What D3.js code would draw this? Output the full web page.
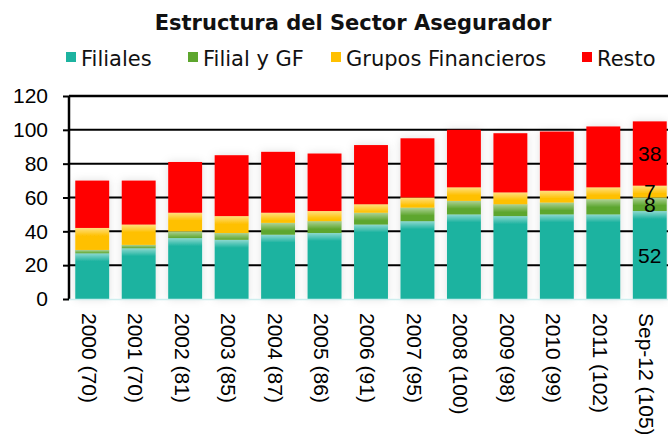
<!DOCTYPE html>
<html>
<head>
<meta charset="utf-8">
<script src="https://cdn.jsdelivr.net/npm/d3@7"></script>
<style>
  body { margin: 0; background: #fff; }
  svg { display: block; }
</style>
</head>
<body>
<div id="chart-area"></div>
<script>
// categories and series
const categories = ['2000 (70)', '2001 (70)', '2002 (81)', '2003 (85)', '2004 (87)', '2005 (86)',
  '2006 (91)', '2007 (95)', '2008 (100)', '2009 (98)', '2010 (99)', '2011 (102)', 'Sep-12 (105)'];
const filiales = [27, 30, 36, 35, 38, 39, 44, 46, 50, 49, 50, 50, 52];
const filialGF = [2, 2, 4, 4, 7, 7, 7, 8, 8, 7, 7, 9, 8];
const grupos   = [13, 12, 11, 10, 6, 6, 5, 6, 8, 7, 7, 7, 7];
const resto    = [28, 26, 30, 36, 36, 34, 35, 35, 34, 35, 35, 36, 38];
const yTicks = [0, 20, 40, 60, 80, 100, 120];
const seriesNames = ['Filiales', 'Filial y GF', 'Grupos Financieros', 'Resto'];
const colors = ['#1db3a0', '#5da62e', '#ffc000', '#ff0000'];

const W = 668, H = 434;

const svg = d3.select('#chart-area').append('svg')
  .attr('width', W)
  .attr('height', H);

const defs = svg.append('defs');
const shadow = defs.append('filter').attr('id', 'shadow')
  .attr('x', '-40%').attr('y', '-10%').attr('width', '180%').attr('height', '120%');
shadow.append('feDropShadow')
  .attr('dx', 0).attr('dy', 0).attr('stdDeviation', 4)
  .attr('flood-color', '#000').attr('flood-opacity', 0.13);

const shine = defs.append('linearGradient').attr('id', 'shine')
  .attr('x1', 0).attr('y1', 0).attr('x2', 0).attr('y2', 1);
shine.append('stop').attr('offset', '0%').attr('stop-color', '#fff').attr('stop-opacity', 0.5);
shine.append('stop').attr('offset', '100%').attr('stop-color', '#fff').attr('stop-opacity', 0);

// table for the stack
const table = categories.map((c, i) => ({
  cat: c,
  'Filiales': filiales[i],
  'Filial y GF': filialGF[i],
  'Grupos Financieros': grupos[i],
  'Resto': resto[i]
}));
const stacked = d3.stack().keys(seriesNames)(table);

// scales
const x = d3.scaleBand()
  .domain(categories)
  .range([69, 673])
  .paddingInner(0.27)
  .paddingOuter(0.135);

const y = d3.scaleLinear()
  .domain([0, 120])
  .range([299, 96]);

// title
svg.append('text')
  .attr('x', 353)
  .attr('y', 30)
  .attr('text-anchor', 'middle')
  .attr('font-family', 'DejaVu Sans')
  .attr('font-weight', 'bold')
  .attr('font-size', '21px')
  .attr('fill', '#111')
  .text('Estructura del Sector Asegurador');

// legend
const legendX = [66, 188, 331, 582];
const legend = svg.append('g').attr('class', 'legend');
seriesNames.forEach((name, i) => {
  const g = legend.append('g').attr('transform', `translate(${legendX[i]},0)`);
  g.append('rect')
    .attr('x', 0).attr('y', 52)
    .attr('width', 10).attr('height', 10)
    .attr('fill', colors[i]);
  g.append('text')
    .attr('x', 15).attr('y', 66)
    .attr('font-family', 'DejaVu Sans')
    .attr('font-size', '21px')
    .attr('fill', '#111')
    .text(name);
});

// gridlines
svg.append('g')
  .attr('class', 'grid')
  .selectAll('line')
  .data(yTicks.filter(d => d > 0))
  .enter().append('line')
    .attr('x1', 69).attr('x2', W)
    .attr('y1', d => y(d)).attr('y2', d => y(d))
    .attr('stroke', '#000')
    .attr('stroke-width', d => d === 120 ? 2.5 : 2);

// bars
const barGroups = svg.append('g').attr('class', 'bars')
  .selectAll('g.bar')
  .data(categories)
  .enter().append('g')
    .attr('class', 'bar')
    .attr('filter', 'url(#shadow)');

barGroups.each(function (cat, j) {
  const g = d3.select(this);
  stacked.forEach((layer, i) => {
    const d = layer[j];
    const top = y(d[1]);
    const h = y(d[0]) - y(d[1]);
    g.append('rect')
      .attr('x', x(cat))
      .attr('y', top)
      .attr('width', x.bandwidth())
      .attr('height', h)
      .attr('fill', colors[i]);
    if (i < 3) {
      g.append('rect')
        .attr('x', x(cat))
        .attr('y', top)
        .attr('width', x.bandwidth())
        .attr('height', Math.min(h, 8))
        .attr('fill', 'url(#shine)');
    }
  });
});

// data labels on the last bar
const lastIdx = categories.length - 1;
svg.append('g').attr('class', 'labels')
  .selectAll('text')
  .data(stacked.map(layer => layer[lastIdx]))
  .enter().append('text')
    .attr('x', x(categories[lastIdx]) + x.bandwidth() / 2)
    .attr('y', d => y((d[0] + d[1]) / 2))
    .attr('dy', '0.36em')
    .attr('text-anchor', 'middle')
    .attr('font-family', 'Liberation Sans, Arial, sans-serif')
    .attr('font-size', '21px')
    .attr('fill', '#000')
    .text(d => d[1] - d[0]);

// y axis
const yAxisCall = d3.axisLeft(y)
  .tickValues(yTicks)
  .tickSize(6)
  .tickPadding(15);
const yAxisGroup = svg.append('g')
  .attr('class', 'y-axis')
  .attr('transform', 'translate(69,0)')
  .call(yAxisCall);
yAxisGroup.select('.domain')
  .attr('d', `M0,${y(120)}V${y(0)}`)
  .attr('stroke', '#000')
  .attr('stroke-width', 2.5);
yAxisGroup.selectAll('.tick line').attr('stroke', '#000').attr('stroke-width', 2);
yAxisGroup.selectAll('.tick text')
  .attr('font-family', 'Liberation Sans, Arial, sans-serif')
  .attr('font-size', '21px')
  .attr('fill', '#000');

// x axis baseline (faint) and rotated labels
svg.append('line')
  .attr('x1', 69).attr('x2', W)
  .attr('y1', y(0) + 0.5).attr('y2', y(0) + 0.5)
  .attr('stroke', '#cdeeee')
  .attr('stroke-width', 1.5);

const xAxisGroup = svg.append('g').attr('class', 'x-axis');
xAxisGroup.selectAll('text')
  .data(categories)
  .enter().append('text')
    .attr('transform', d => `translate(${x(d) + x.bandwidth() / 2 - 3},313) rotate(90)`)
    .attr('dy', '0.36em')
    .attr('text-anchor', 'start')
    .attr('font-family', 'Liberation Sans, Arial, sans-serif')
    .attr('font-size', '21px')
    .attr('fill', '#000')
    .text(d => d);
</script>
</body>
</html>
